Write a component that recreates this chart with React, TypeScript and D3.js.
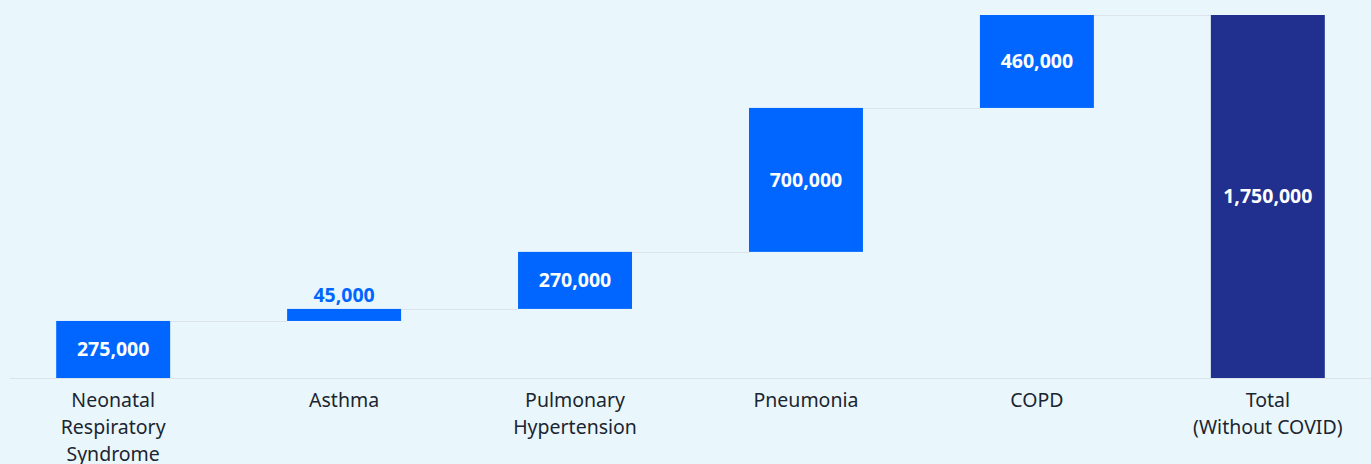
import React, { useRef, useEffect } from "react";
import * as d3 from "d3";

const categories = [
  ["Neonatal", "Respiratory", "Syndrome"],
  ["Asthma"],
  ["Pulmonary", "Hypertension"],
  ["Pneumonia"],
  ["COPD"],
  ["Total", "(Without COVID)"],
];
// bar heights (the printed labels are rounded)
const values = [275000, 58000, 275000, 694000, 448000];
const totalValue = 1750000;
const valueLabels = ["275,000", "45,000", "270,000", "700,000", "460,000", "1,750,000"];

const WIDTH = 1371;
const HEIGHT = 464;
const BG = "#e9f7fd";
const BLUE = "#0066ff";
const NAVY = "#212f8f";
const GRID = "#dde3ec";
const TEXT = "#1b2530";
const FONT = "'Noto Sans', 'Open Sans', sans-serif";

export default function App() {
  const svgRef = useRef<SVGSVGElement>(null);

  useEffect(() => {
    document.body.style.margin = "0";
    document.body.style.background = BG;
    if (!svgRef.current) return;

    const svg = d3.select(svgRef.current);
    svg.selectAll("*").remove();

    const baseY = 378;
    const topY = 15;

    const keys = categories.map((c) => c.join(" "));
    const x = d3
      .scaleBand<string>()
      .domain(keys)
      .range([10, WIDTH])
      .paddingInner(0.5065)
      .paddingOuter(0.2);
    const y = d3.scaleLinear().domain([0, totalValue]).range([baseY, topY]);
    const bw = x.bandwidth();

    // running totals
    const bars: { key: string; start: number; end: number; total: boolean; label: string }[] = [];
    let acc = 0;
    values.forEach((v, i) => {
      bars.push({ key: keys[i], start: acc, end: acc + v, total: false, label: valueLabels[i] });
      acc += v;
    });
    bars.push({ key: keys[5], start: 0, end: totalValue, total: true, label: valueLabels[5] });

    svg.append("rect").attr("width", WIDTH).attr("height", HEIGHT).attr("fill", BG);

    // baseline
    svg
      .append("line")
      .attr("x1", 10)
      .attr("x2", WIDTH)
      .attr("y1", baseY + 0.5)
      .attr("y2", baseY + 0.5)
      .attr("stroke", GRID)
      .attr("stroke-width", 1);

    // connectors
    bars.slice(0, -1).forEach((b, i) => {
      const next = bars[i + 1];
      const yy = Math.round(y(b.end)) + 0.5;
      svg
        .append("line")
        .attr("x1", x(b.key)! + bw)
        .attr("x2", x(next.key)!)
        .attr("y1", yy)
        .attr("y2", yy)
        .attr("stroke", GRID)
        .attr("stroke-width", 1);
    });

    // bars
    svg
      .selectAll("rect.bar")
      .data(bars)
      .join("rect")
      .attr("class", "bar")
      .attr("x", (d) => x(d.key)!)
      .attr("width", bw)
      .attr("y", (d) => y(d.end))
      .attr("height", (d) => y(d.start) - y(d.end))
      .attr("fill", (d) => (d.total ? NAVY : BLUE));

    // value labels
    bars.forEach((b) => {
      const h = y(b.start) - y(b.end);
      const inside = h > 30;
      svg
        .append("text")
        .attr("x", x(b.key)! + bw / 2)
        .attr("y", inside ? (y(b.start) + y(b.end)) / 2 : y(b.end) - 14)
        .attr("dy", "0.35em")
        .attr("text-anchor", "middle")
        .style("font-family", FONT)
        .style("font-size", "19.5px")
        .style("font-weight", "bold")
        .style("fill", inside ? "#ffffff" : BLUE)
        .text(b.label);
    });

    // category labels
    categories.forEach((lines, i) => {
      const t = svg
        .append("text")
        .attr("text-anchor", "middle")
        .style("font-family", FONT)
        .style("font-size", "19.5px")
        .style("fill", TEXT);
      lines.forEach((ln, j) => {
        t.append("tspan")
          .attr("x", x(keys[i])! + bw / 2)
          .attr("y", 407 + j * 27)
          .text(ln);
      });
    });
  }, []);

  return <svg ref={svgRef} width={WIDTH} height={HEIGHT} style={{ display: "block" }} />;
}
